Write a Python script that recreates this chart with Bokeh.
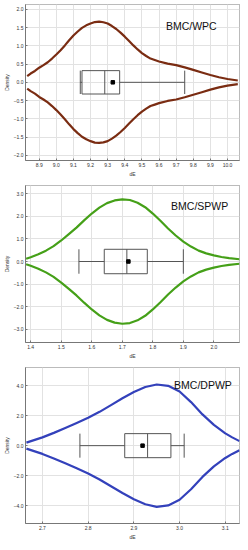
from bokeh.plotting import figure
from bokeh.layouts import column
from bokeh.models import Range1d, FixedTicker, CustomJSTickFormatter, Label
from bokeh.embed import file_html
from bokeh.resources import INLINE

# ---- Panel 1: BMC/WPC ----
wpc_x = [8.83, 8.85, 8.875, 8.90, 8.925, 8.95, 8.975, 9.00, 9.025, 9.05, 9.075, 9.10,
         9.125, 9.15, 9.175, 9.20, 9.225, 9.25, 9.275, 9.30, 9.325, 9.35, 9.375, 9.40,
         9.425, 9.45, 9.475, 9.50, 9.525, 9.55, 9.575, 9.60, 9.65, 9.70, 9.75, 9.80,
         9.85, 9.90, 9.95, 10.00, 10.06]
wpc_d = [0.17, 0.24, 0.31, 0.40, 0.47, 0.55, 0.65, 0.76, 0.88, 1.01, 1.15, 1.28,
         1.39, 1.49, 1.56, 1.61, 1.65, 1.66, 1.645, 1.61, 1.54, 1.46, 1.36, 1.25,
         1.13, 1.01, 0.90, 0.80, 0.72, 0.65, 0.61, 0.57, 0.51, 0.47, 0.41, 0.34,
         0.27, 0.20, 0.14, 0.09, 0.05]
wpc_box = dict(lo=9.14, q1=9.15, med=9.283, q3=9.37, hi=9.75, mean=9.33)
wpc_xticks = [8.9, 9.0, 9.1, 9.2, 9.3, 9.4, 9.5, 9.6, 9.7, 9.8, 9.9, 10.0]
wpc_yticks = [-2.0, -1.5, -1.0, -0.5, 0.0, 0.5, 1.0, 1.5, 2.0]

# ---- Panel 2: BMC/SPWP ----
spwp_x = [1.385, 1.40, 1.425, 1.45, 1.475, 1.50, 1.525, 1.55, 1.575, 1.60, 1.625, 1.65,
          1.675, 1.70, 1.725, 1.75, 1.775, 1.80, 1.825, 1.85, 1.875, 1.90, 1.925, 1.95,
          1.975, 2.00, 2.025, 2.05, 2.084]
spwp_d = [0.12, 0.19, 0.32, 0.48, 0.68, 0.93, 1.21, 1.50, 1.82, 2.12, 2.38, 2.58,
          2.70, 2.75, 2.72, 2.60, 2.40, 2.12, 1.80, 1.46, 1.15, 0.88, 0.66, 0.48,
          0.36, 0.27, 0.20, 0.15, 0.10]
spwp_box = dict(lo=1.558, q1=1.641, med=1.715, q3=1.782, hi=1.90, mean=1.72)
spwp_xticks = [1.4, 1.5, 1.6, 1.7, 1.8, 1.9, 2.0]
spwp_yticks = [-3.0, -2.0, -1.0, 0.0, 1.0, 2.0, 3.0]

# ---- Panel 3: BMC/DPWP ----
dpwp_x = [2.665, 2.70, 2.725, 2.75, 2.775, 2.80, 2.825, 2.85, 2.875, 2.90, 2.925, 2.95,
          2.975, 3.00, 3.025, 3.05, 3.075, 3.10, 3.115, 3.131]
dpwp_d = [0.20, 0.55, 0.85, 1.17, 1.50, 1.85, 2.25, 2.70, 3.15, 3.57, 3.90, 4.07,
          3.98, 3.60, 2.90, 2.08, 1.38, 0.82, 0.55, 0.30]
dpwp_box = dict(lo=2.782, q1=2.880, med=2.930, q3=2.981, hi=3.01, mean=2.919)
dpwp_xticks = [2.7, 2.8, 2.9, 3.0, 3.1]
dpwp_yticks = [-4.0, -2.0, 0.0, 2.0, 4.0]

titles = ["BMC/WPC", "BMC/SPWP", "BMC/DPWP"]

FMT = CustomJSTickFormatter(code="return tick.toFixed(1).replace('-', '\u2212');")


def panel(xs, ds, box, xticks, yticks, xr, yr, color, title, tpos, half,
          fheight, btop):
    p = figure(frame_width=214, frame_height=fheight, output_backend="svg",
               toolbar_location=None,
               x_range=Range1d(*xr), y_range=Range1d(*yr),
               min_border_left=14, min_border_right=7, min_border_top=btop,
               min_border_bottom=10)
    p.background_fill_color = "white"
    p.outline_line_color = "#777777"
    p.outline_line_dash = "1 1"
    p.xgrid.grid_line_color = "#e2e2e2"
    p.ygrid.grid_line_color = "#e2e2e2"
    p.xaxis.ticker = FixedTicker(ticks=xticks)
    p.yaxis.ticker = FixedTicker(ticks=yticks)
    p.xaxis.formatter = FMT
    p.yaxis.formatter = FMT
    for ax in (p.xaxis[0], p.yaxis[0]):
        ax.axis_line_color = "#777777"
        ax.major_tick_in = 2
        ax.major_tick_out = 0
        ax.minor_tick_line_color = None
        ax.major_tick_line_color = "#777777"
        ax.major_label_text_font = "Liberation Sans"
        ax.major_label_text_font_size = "5px"
        ax.major_label_text_color = "#333333"
        ax.major_label_standoff = 2
        ax.axis_label_text_font = "Liberation Sans"
        ax.axis_label_text_font_size = "5px"
        ax.axis_label_text_font_style = "normal"
        ax.axis_label_text_color = "#333333"
        ax.axis_label_standoff = 1
    p.xaxis.axis_label = "dE"
    p.yaxis.axis_label = "Density"

    p.line(xs, ds, line_color=color, line_width=2.2, line_join="round")
    p.line(xs, [-d for d in ds], line_color=color, line_width=2.2, line_join="round")

    bc = "#555555"
    p.quad(left=[box["q1"]], right=[box["q3"]], bottom=[-half], top=[half],
           fill_color=None, line_color=bc, line_width=1)
    p.segment(x0=[box["med"]], x1=[box["med"]], y0=[-half], y1=[half],
              line_color=bc, line_width=1)
    p.segment(x0=[box["lo"], box["q3"]], x1=[box["q1"], box["hi"]], y0=[0, 0], y1=[0, 0],
              line_color=bc, line_width=1)
    p.segment(x0=[box["lo"], box["hi"]], x1=[box["lo"], box["hi"]], y0=[-half, -half],
              y1=[half, half], line_color=bc, line_width=1)
    p.scatter([box["mean"]], [0], marker="square", size=3.5, fill_color="black",
              line_color="black")

    p.add_layout(Label(x=tpos[0], y=tpos[1], text=title, text_font="Liberation Sans",
                       text_font_size="10.5px", text_color="#111111",
                       text_baseline="middle"))
    return p


p1 = panel(wpc_x, wpc_d, wpc_box, wpc_xticks, wpc_yticks, (8.82, 10.07), (-2.14, 2.13),
           "#7a2c12", titles[0], (9.64, 1.54), 0.32, 156, 4)
p2 = panel(spwp_x, spwp_d, spwp_box, spwp_xticks, spwp_yticks, (1.383, 2.084), (-3.58, 3.36),
           "#45a018", titles[1], (1.86, 2.45), 0.54, 157, 6)
p3 = panel(dpwp_x, dpwp_d, dpwp_box, dpwp_xticks, dpwp_yticks, (2.663, 3.131), (-5.18, 5.2),
           "#3341bb", titles[2], (2.988, 4.02), 0.80, 156, 6)

layout = column(p1, p2, p3, spacing=0)
open("out.html", "w").write(file_html(layout, INLINE))
